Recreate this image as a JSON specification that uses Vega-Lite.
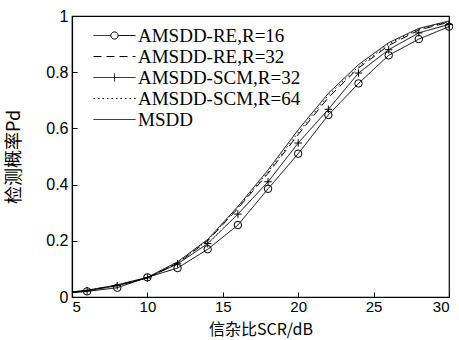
{
  "$schema": "https://vega.github.io/schema/vega-lite/v6.json",
  "width": 377,
  "height": 281,
  "autosize": {"type": "none"},
  "padding": {"left": 72, "top": 16, "right": 10, "bottom": 43},
  "background": "white",
  "config": {
    "view": {"stroke": "black", "strokeWidth": 1.2},
    "axis": {
      "grid": false,
      "domainColor": "black",
      "domainWidth": 1.2,
      "tickColor": "black",
      "tickSize": -5,
      "labelFont": "Liberation Sans",
      "labelFontSize": 16,
      "labelColor": "black",
      "titleFont": "Noto Sans CJK SC",
      "titleFontSize": 18,
      "titleFontWeight": "normal",
      "titleColor": "black"
    }
  },
  "data": {
    "values": [
      {"series": "AMSDD-RE,R=16", "x": 5, "y": 0.015},
      {"series": "AMSDD-RE,R=16", "x": 6, "y": 0.02},
      {"series": "AMSDD-RE,R=16", "x": 8, "y": 0.033},
      {"series": "AMSDD-RE,R=16", "x": 10, "y": 0.07},
      {"series": "AMSDD-RE,R=16", "x": 12, "y": 0.103},
      {"series": "AMSDD-RE,R=16", "x": 14, "y": 0.17},
      {"series": "AMSDD-RE,R=16", "x": 16, "y": 0.256},
      {"series": "AMSDD-RE,R=16", "x": 18, "y": 0.385},
      {"series": "AMSDD-RE,R=16", "x": 20, "y": 0.51},
      {"series": "AMSDD-RE,R=16", "x": 22, "y": 0.648},
      {"series": "AMSDD-RE,R=16", "x": 24, "y": 0.76},
      {"series": "AMSDD-RE,R=16", "x": 26, "y": 0.86},
      {"series": "AMSDD-RE,R=16", "x": 28, "y": 0.918},
      {"series": "AMSDD-RE,R=16", "x": 30, "y": 0.962},
      {"series": "AMSDD-RE,R=32", "x": 5, "y": 0.018},
      {"series": "AMSDD-RE,R=32", "x": 6, "y": 0.023},
      {"series": "AMSDD-RE,R=32", "x": 8, "y": 0.042},
      {"series": "AMSDD-RE,R=32", "x": 10, "y": 0.068},
      {"series": "AMSDD-RE,R=32", "x": 12, "y": 0.12},
      {"series": "AMSDD-RE,R=32", "x": 14, "y": 0.2},
      {"series": "AMSDD-RE,R=32", "x": 16, "y": 0.315},
      {"series": "AMSDD-RE,R=32", "x": 18, "y": 0.44},
      {"series": "AMSDD-RE,R=32", "x": 20, "y": 0.578},
      {"series": "AMSDD-RE,R=32", "x": 22, "y": 0.71},
      {"series": "AMSDD-RE,R=32", "x": 24, "y": 0.815},
      {"series": "AMSDD-RE,R=32", "x": 26, "y": 0.895},
      {"series": "AMSDD-RE,R=32", "x": 28, "y": 0.95},
      {"series": "AMSDD-RE,R=32", "x": 30, "y": 0.978},
      {"series": "AMSDD-SCM,R=32", "x": 5, "y": 0.017},
      {"series": "AMSDD-SCM,R=32", "x": 6, "y": 0.022},
      {"series": "AMSDD-SCM,R=32", "x": 8, "y": 0.04},
      {"series": "AMSDD-SCM,R=32", "x": 10, "y": 0.068},
      {"series": "AMSDD-SCM,R=32", "x": 12, "y": 0.118},
      {"series": "AMSDD-SCM,R=32", "x": 14, "y": 0.19},
      {"series": "AMSDD-SCM,R=32", "x": 16, "y": 0.295},
      {"series": "AMSDD-SCM,R=32", "x": 18, "y": 0.41},
      {"series": "AMSDD-SCM,R=32", "x": 20, "y": 0.548},
      {"series": "AMSDD-SCM,R=32", "x": 22, "y": 0.668},
      {"series": "AMSDD-SCM,R=32", "x": 24, "y": 0.797},
      {"series": "AMSDD-SCM,R=32", "x": 26, "y": 0.88},
      {"series": "AMSDD-SCM,R=32", "x": 28, "y": 0.94},
      {"series": "AMSDD-SCM,R=32", "x": 30, "y": 0.97},
      {"series": "AMSDD-SCM,R=64", "x": 5, "y": 0.018},
      {"series": "AMSDD-SCM,R=64", "x": 6, "y": 0.023},
      {"series": "AMSDD-SCM,R=64", "x": 8, "y": 0.042},
      {"series": "AMSDD-SCM,R=64", "x": 10, "y": 0.069},
      {"series": "AMSDD-SCM,R=64", "x": 12, "y": 0.122},
      {"series": "AMSDD-SCM,R=64", "x": 14, "y": 0.202},
      {"series": "AMSDD-SCM,R=64", "x": 16, "y": 0.318},
      {"series": "AMSDD-SCM,R=64", "x": 18, "y": 0.445},
      {"series": "AMSDD-SCM,R=64", "x": 20, "y": 0.585},
      {"series": "AMSDD-SCM,R=64", "x": 22, "y": 0.718},
      {"series": "AMSDD-SCM,R=64", "x": 24, "y": 0.82},
      {"series": "AMSDD-SCM,R=64", "x": 26, "y": 0.9},
      {"series": "AMSDD-SCM,R=64", "x": 28, "y": 0.953},
      {"series": "AMSDD-SCM,R=64", "x": 30, "y": 0.98},
      {"series": "MSDD", "x": 5, "y": 0.018},
      {"series": "MSDD", "x": 6, "y": 0.024},
      {"series": "MSDD", "x": 8, "y": 0.043},
      {"series": "MSDD", "x": 10, "y": 0.07},
      {"series": "MSDD", "x": 12, "y": 0.125},
      {"series": "MSDD", "x": 14, "y": 0.205},
      {"series": "MSDD", "x": 16, "y": 0.322},
      {"series": "MSDD", "x": 18, "y": 0.452},
      {"series": "MSDD", "x": 20, "y": 0.595},
      {"series": "MSDD", "x": 22, "y": 0.725},
      {"series": "MSDD", "x": 24, "y": 0.827},
      {"series": "MSDD", "x": 26, "y": 0.905},
      {"series": "MSDD", "x": 28, "y": 0.956},
      {"series": "MSDD", "x": 30, "y": 0.982}
    ]
  },
  "encoding": {
    "x": {
      "field": "x", "type": "quantitative",
      "scale": {"domain": [5, 30], "nice": false},
      "axis": {"values": [5, 10, 15, 20, 25, 30], "title": "信杂比SCR/dB", "titlePadding": 7, "titleFontSize": 16, "labelFontSize": 15, "labelPadding": 7}
    },
    "y": {
      "field": "y", "type": "quantitative",
      "scale": {"domain": [0, 1], "nice": false},
      "axis": {"values": [0, 0.2, 0.4, 0.6, 0.8, 1], "format": "~g", "title": "检测概率Pd", "titlePadding": 22, "labelPadding": 9}
    }
  },
  "layer": [
    {
      "mark": {"type": "line", "color": "black", "strokeWidth": 1},
      "encoding": {
        "strokeDash": {
          "field": "series", "type": "nominal",
          "scale": {
            "domain": ["AMSDD-RE,R=16", "AMSDD-RE,R=32", "AMSDD-SCM,R=32", "AMSDD-SCM,R=64", "MSDD"],
            "range": [[1, 0], [8, 5], [1, 0], [1.5, 3], [1, 0]]
          },
          "legend": {
            "orient": "none",
            "legendX": 18,
            "legendY": 10,
            "title": null,
            "labelFont": "Liberation Serif",
            "labelFontSize": 19,
            "labelColor": "black",
            "labelLimit": 0,
            "labelOffset": 14,
            "symbolSize": 100,
            "symbolOffset": 15,
            "symbolStrokeWidth": 1,
            "symbolStrokeColor": "black",
            "rowPadding": 1,
            "encode": {
              "symbols": {
                "update": {
                  "shape": {"signal": "datum.value === 'AMSDD-RE,R=16' ? 'M-4.2,0H-0.72M0.72,0H4.2M0.72,0A0.72,0.72 0 1 1 -0.72,0A0.72,0.72 0 1 1 0.72,0' : datum.value === 'AMSDD-SCM,R=32' ? 'M-4.2,0H4.2M0,-0.8V0.8' : 'M-4.2,0H4.2'"},
                  "stroke": {"value": "black"},
                  "fill": {"value": "transparent"},
                  "strokeWidth": {"value": 1}
                }
              }
            }
          }
        }
      }
    },
    {
      "transform": [{"filter": "datum.x > 5 && (datum.series === 'AMSDD-RE,R=16' || datum.series === 'AMSDD-SCM,R=32')"}],
      "mark": {"type": "point", "filled": false, "stroke": "black", "strokeWidth": 1, "size": 56, "opacity": 1},
      "encoding": {
        "shape": {
          "field": "series", "type": "nominal",
          "scale": {"domain": ["AMSDD-RE,R=16", "AMSDD-SCM,R=32"], "range": ["circle", "M-1,0H1M0,-1V1"]},
          "legend": null
        }
      }
    }
  ]
}
